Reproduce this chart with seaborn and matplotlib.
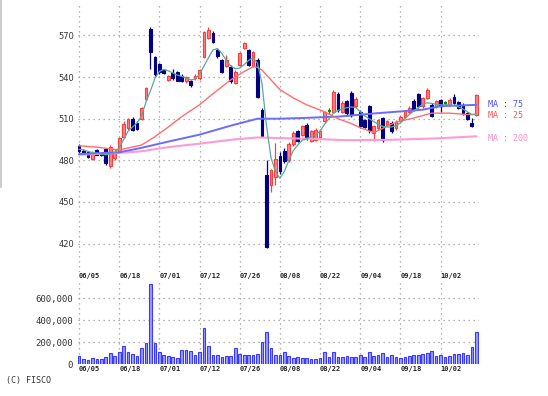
import numpy as np
import pandas as pd
import matplotlib
matplotlib.use('Agg')
import matplotlib.pyplot as plt
from matplotlib.lines import Line2D
import seaborn as sns

# daily prices (06/05 - 10/15)
opens = [490.5, 487, 486, 481, 487.5, 484.5, 488, 476, 482,
         487, 497, 503.5, 510, 507, 510, 524, 575, 554.5,
         549.5, 545, 538, 543, 543.5, 541, 537, 537, 539,
         539, 554.5, 568.5, 571.5, 559.5, 552, 548, 547.5, 536,
         549, 561, 559.5, 548, 552.5, 516.5, 469.5, 462, 468,
         483, 486.5, 480.5, 491.5, 501, 498.5, 505.5, 494, 495,
         497, 508, 515.5, 515, 528, 515, 522.5, 528.5, 519,
         515, 509, 519, 500, 503.5, 510.5, 505.5, 507, 503,
         508, 511.5, 515, 522.5, 527.5, 519, 525, 520, 519,
         523.5, 521.5, 520, 526, 522, 520, 514, 507, 513]
highs = [491.5, 488, 487, 486.5, 488.5, 485.5, 489, 491, 488,
         497, 508, 510.5, 511, 508, 518.5, 533, 576, 555.5,
         550.5, 546, 541.5, 545.5, 544.5, 542, 541, 538, 542,
         546, 573, 576, 573, 561, 553, 556, 548.5, 545,
         558, 565.5, 560.5, 559, 553.5, 517.5, 480.5, 474, 492.5,
         486, 489, 493, 501, 502, 505.5, 507, 502, 503,
         502.5, 515.5, 517.5, 531, 529, 522.5, 523.5, 530, 526,
         516, 510, 520, 505.5, 510, 511.5, 509, 508, 509,
         512.5, 516.5, 519, 524, 528.5, 526, 532, 521, 523.5,
         524.5, 523, 525, 528, 523, 521, 515, 510.5, 527.5]
lows = [485.5, 484.5, 482, 480.5, 483.5, 483, 476.5, 474.5, 480,
        485, 496, 502, 501, 501.5, 509, 523, 546, 541,
        542.5, 542, 537, 538, 537, 536.5, 536, 533, 538,
        538, 553.5, 567.5, 564.5, 554, 543, 547, 536, 535,
        548, 560, 548, 547, 525, 496.5, 416.5, 457, 462,
        470, 478, 479, 490, 493, 497.5, 495, 493, 494,
        496, 507, 513.5, 514, 515, 514, 512, 511, 518,
        503.5, 503, 499.5, 494, 502.5, 493.5, 504.5, 500, 502,
        507, 510.5, 514, 515.5, 518, 518, 524, 511, 518,
        515, 520, 519, 520.5, 517, 513, 509, 504, 512]
closes = [486.5, 485, 482.5, 485.5, 484, 483.5, 478, 489.5, 486,
          496, 506.5, 509.5, 502, 502.5, 517.5, 532, 558, 542,
          544, 543, 540.5, 539, 537.5, 537, 540, 534, 541,
          545, 572.5, 574, 565.5, 555, 544, 552, 537, 544,
          557, 564.5, 549, 558, 526, 497.5, 417.5, 473, 481,
          472, 479.5, 491.5, 499.5, 494, 504.5, 496, 501, 502,
          501, 514.5, 515.5, 529.5, 516, 521, 514, 512.5, 524.5,
          504.5, 504, 502, 504.5, 509, 495, 508, 501, 507.5,
          511.5, 515.5, 518, 516.5, 519, 525, 531, 512, 522.5,
          519, 521.5, 523.5, 521, 518, 514, 510, 504.5, 527]
volumes = [74000, 50000, 35000, 59000, 44000, 44000, 68000, 103000, 74000,
           115000, 162000, 109000, 94000, 74000, 150000, 197000, 730000, 197000,
           115000, 88000, 74000, 68000, 59000, 126000, 132000, 118000, 82000,
           115000, 330000, 162000, 88000, 82000, 68000, 76000, 76000, 150000,
           91000, 85000, 88000, 82000, 97000, 200000, 294000, 150000, 88000,
           88000, 112000, 71000, 59000, 68000, 59000, 59000, 47000, 50000,
           53000, 112000, 62000, 112000, 62000, 62000, 74000, 68000, 62000,
           88000, 65000, 112000, 74000, 88000, 106000, 65000, 88000, 68000,
           59000, 68000, 76000, 82000, 82000, 91000, 103000, 118000, 71000,
           88000, 65000, 76000, 97000, 97000, 103000, 88000, 156000, 294000]

date_labels = ['06/05', '06/18', '07/01', '07/12', '07/26',
               '08/08', '08/22', '09/04', '09/18', '10/02']
date_pos = [0, 9, 18, 27, 36, 45, 54, 63, 72, 81]

# moving averages (bar index, value)
ma5_x = list(range(90))
ma5_y = [488, 487.5, 486.5, 485.5, 485, 484.5, 484, 484.5, 485.5,
         489, 495, 501, 504, 507, 512, 522, 530, 539,
         544, 545.5, 544.5, 543, 541.5, 540.5, 539.5, 538, 538.5,
         542, 548, 554, 559.5, 560.5, 557, 552, 548, 546,
         546.5, 549, 552, 554, 550, 535, 505, 482, 472,
         467, 472, 480, 487, 491, 494.5, 495.5, 497, 498.5,
         501, 506, 510, 514, 516, 517, 518, 518.5, 518,
         515, 512, 510, 508, 506, 504.5, 504, 504, 505,
         507, 510, 513, 515.5, 518, 520.5, 521.5, 521, 520.5,
         520, 520, 520, 519.5, 518.5, 517, 515, 513, 513.5]
ma25_x = [0, 4, 9, 14, 17, 20, 23, 27, 30, 34, 37, 39, 40, 41, 43, 45,
          48, 51, 55, 58, 61, 63, 66, 68, 71, 75, 79, 83, 87, 89]
ma25_y = [490.5, 489.5, 487.5, 491, 497, 504, 511.5, 520, 528, 538, 544, 547.5,
          547, 545, 538, 531, 525, 520, 515, 510, 506.5, 503.5, 500, 503,
          507.5, 510.5, 514, 514, 513, 513]
ma75_x = [0, 9, 14, 20, 27, 34, 40, 45, 50, 58, 67, 77, 81, 89]
ma75_y = [484.5, 485.8, 489, 493.5, 498.5, 505, 510, 510, 510.5, 511.5,
          514, 516.5, 519, 520]
ma200_x = [0, 9, 14, 20, 27, 34, 40, 45, 52, 60, 70, 80, 89]
ma200_y = [484, 485.3, 486.5, 489.5, 492, 494.8, 496.5, 496, 495.5, 494.5,
           494.8, 495.8, 497.3]

df = pd.DataFrame({'i': range(len(closes)), 'open': opens, 'high': highs,
                   'low': lows, 'close': closes, 'volume': volumes})

sns.set_style('white')
plt.rcParams['font.family'] = ['DejaVu Sans']

fig = plt.figure(figsize=(5.48, 3.96), dpi=100)
ax = fig.add_axes([78/548, 1-272/396, 401/548, 269/396])
axv = fig.add_axes([78/548, 1-364.3/396, 401/548, 84.3/396])

grid_kw = dict(color='#9a9a9a', linestyle=(0, (1, 3)), linewidth=0.9)

# candles
up = df['close'] > df['open']
down = df['close'] < df['open']
flat = df['close'] == df['open']
for mask, fill, edge in [(up, '#ff8585', '#ff3c3c'), (down, '#000080', '#000080'),
                         (flat, '#008000', '#008000')]:
    d = df[mask]
    ax.vlines(d['i'], d['low'], d['high'], color=edge, linewidth=0.9, zorder=2)
    h = (d['close'] - d['open']).abs().clip(lower=0.5)
    ax.bar(d['i'], h, bottom=d[['open', 'close']].min(axis=1), width=0.62,
           color=fill, edgecolor=edge, linewidth=0.8, zorder=2)

# moving averages
sns.lineplot(x=ma200_x, y=ma200_y, ax=ax, color='#ff9ad5', linewidth=1.5, zorder=3)
sns.lineplot(x=ma75_x, y=ma75_y, ax=ax, color='#6b6bff', linewidth=1.4, zorder=3)
sns.lineplot(x=ma25_x, y=ma25_y, ax=ax, color='#ff6e6e', linewidth=1.0, zorder=3)
sns.lineplot(x=ma5_x, y=ma5_y, ax=ax, color='#5aa89c', linewidth=0.9, zorder=4)

mono = 'DejaVu Sans Mono'
ax.text(91.6, ma75_y[-1], 'MA : 75', color='#5050ff', fontsize=6, family=mono,
        va='center', ha='left', clip_on=False)
ax.text(91.6, ma25_y[-1] - 0.5, 'MA : 25', color='#ff5a5a', fontsize=6, family=mono,
        va='center', ha='left', clip_on=False)
ax.text(91.6, ma200_y[-1] - 1.5, 'MA : 200', color='#ff88cc', fontsize=6, family=mono,
        va='center', ha='left', clip_on=False)

ax.set_xlim(-0.224, 89.6)
ax.set_ylim(399.5, 593.4)
ax.set_yticks([420, 450, 480, 510, 540, 570])
ax.set_xticks(date_pos)
ax.set_xticklabels(date_labels, ha='left', family=mono, fontsize=5, fontweight='bold',
                   color='#222222')
ax.tick_params(axis='x', length=0, pad=1)
ax.tick_params(axis='y', length=0, pad=2.5, labelsize=6, labelcolor='#333333')
ax.grid(True, **grid_kw)
ax.set_xlabel('')
ax.set_ylabel('')
for s in ax.spines.values():
    s.set_visible(False)

# volume
sns.barplot(data=df, x='i', y='volume', ax=axv, native_scale=True, width=0.6,
            color='#9c9cff', edgecolor='#3a3aff', linewidth=0.8, saturation=1,
            errorbar=None, zorder=2)
axv.set_xlim(-0.224, 89.6)
axv.set_ylim(0, 766000)
axv.set_yticks([0, 200000, 400000, 600000])
axv.set_yticklabels(['0', '200,000', '400,000', '600,000'], family=mono, fontsize=6.5)
axv.set_xticks(date_pos)
axv.set_xticklabels(date_labels, ha='left', family=mono, fontsize=5, fontweight='bold',
                    color='#222222')
axv.tick_params(axis='x', length=0, pad=1)
axv.tick_params(axis='y', length=0, pad=3.5, labelcolor='#333333')
axv.grid(True, **grid_kw)
axv.set_axisbelow(True)
axv.set_xlabel('')
axv.set_ylabel('')
for s in axv.spines.values():
    s.set_visible(False)

fig.text(6/548, 1-380/396, '(C) FISCO', family=mono, fontsize=6, color='#333333',
         va='center', ha='left')
fig.add_artist(Line2D([1/548, 1/548], [1, 1-187/396], transform=fig.transFigure,
                      color='#cccccc', linewidth=1.5))

fig.savefig('out.png', dpi=100)
